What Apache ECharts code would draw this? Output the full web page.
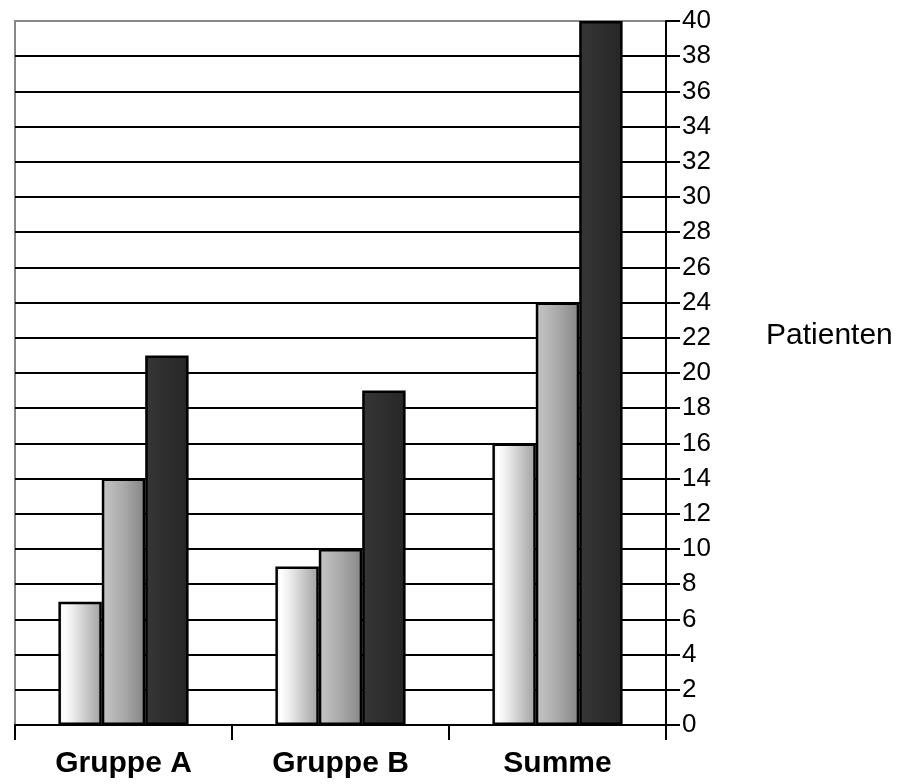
<!DOCTYPE html>
<html>
<head>
<meta charset="utf-8">
<script src="https://cdn.jsdelivr.net/npm/echarts@6/dist/echarts.min.js"></script>
<style>
  html, body { margin: 0; padding: 0; background: #fff; }
  #chart { width: 905px; height: 784px; }
</style>
</head>
<body>
<div id="chart"></div>
<script>
// Categories and patient counts per group
const categories = ['Gruppe A', 'Gruppe B', 'Summe'];
const seriesLight = [7, 9, 16];
const seriesMedium = [14, 10, 24];
const seriesDark = [21, 19, 40];
const axisName = 'Patienten';

function hGradient(stops) {
  return new echarts.graphic.LinearGradient(0, 0, 1, 0,
    stops.map(s => ({ offset: s[0], color: s[1] })));
}

const lightFill = hGradient([[0, '#e6e6e6'], [0.12, '#ffffff'], [0.3, '#f0f0f0'], [1, '#a0a0a0']]);
const mediumFill = hGradient([[0, '#c6c6c6'], [0.5, '#aaaaaa'], [1, '#858585']]);
const darkFill = hGradient([[0, '#363636'], [1, '#262626']]);

const barBase = {
  type: 'bar',
  barGap: '0%',
  barCategoryGap: '40%',
  itemStyle: { borderColor: '#000', borderWidth: 2.5 }
};

const chart = echarts.init(document.getElementById('chart'));
chart.setOption({
  animation: false,
  grid: {
    left: 15, right: 239, top: 21, bottom: 59,
    show: true, borderColor: '#888', borderWidth: 2
  },
  xAxis: {
    type: 'category',
    data: categories,
    axisLine: { lineStyle: { color: '#000', width: 2 } },
    axisTick: { show: true, length: 15, lineStyle: { color: '#000', width: 2 } },
    axisLabel: {
      margin: 24,
      fontFamily: 'Liberation Sans, Arial, sans-serif',
      fontSize: 30, fontWeight: 'bold', color: '#000'
    }
  },
  yAxis: {
    type: 'value',
    position: 'right',
    min: 0, max: 40, interval: 2,
    axisLine: { show: true, lineStyle: { color: '#000', width: 2 } },
    axisTick: { show: true, length: 14, lineStyle: { color: '#000', width: 2 } },
    axisLabel: {
      margin: 16,
      fontFamily: 'Liberation Sans, Arial, sans-serif',
      fontSize: 26, color: '#000'
    },
    splitLine: { show: true, showMaxLine: false, lineStyle: { color: '#000', width: 2 } }
  },
  graphic: [{
    type: 'text',
    left: 766, top: 321,
    style: {
      text: axisName,
      font: '30px "Liberation Sans", Arial, sans-serif',
      fill: '#000'
    }
  }],
  series: [
    Object.assign({}, barBase, { name: 'leicht', data: seriesLight, itemStyle: Object.assign({}, barBase.itemStyle, { color: lightFill }) }),
    Object.assign({}, barBase, { name: 'mittel', data: seriesMedium, itemStyle: Object.assign({}, barBase.itemStyle, { color: mediumFill }) }),
    Object.assign({}, barBase, { name: 'schwer', data: seriesDark, itemStyle: Object.assign({}, barBase.itemStyle, { color: darkFill }) })
  ]
});
</script>
</body>
</html>
